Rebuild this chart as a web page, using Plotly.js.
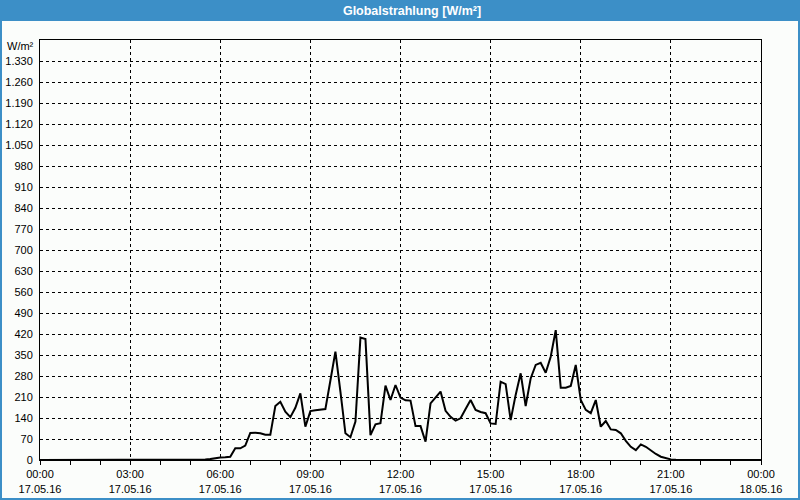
<!DOCTYPE html>
<html>
<head>
<meta charset="utf-8">
<script src="https://cdn.plot.ly/plotly-3.0.1.min.js"></script>
<style>
html,body{margin:0;padding:0;background:#fbfdfb;}
#chart{width:800px;height:500px;}
</style>
</head>
<body>
<div id="chart"></div>
<script>
// Sampling: every 10 minutes on 17.05.16, starting 00:00
const startTime = '2016-05-17T00:00:00';
const stepMinutes = 10;
// Global radiation values (W/m²), 10-minute samples 00:00 .. 24:00
const radiation = [
  // 00:00 - 05:10
  0,0,0,0,0,0, 0,0,0,0,0,0, 0,0,0,0,0,0, 0,0,0,0,0,0, 0,0,0,0,0,0, 0,0,
  // 05:20 - 05:50
  1,2,3,6,
  // 06:00 - 06:50
  8,9,11,39,39,48,
  // 07:00 - 07:50
  90,91,89,84,84,180,
  // 08:00 - 08:50
  194,161,143,174,222,111,
  // 09:00 - 09:50
  163,166,168,170,265,361,
  // 10:00 - 10:50
  228,89,76,128,408,403,
  // 11:00 - 11:50
  83,119,123,248,200,250,
  // 12:00 - 12:50
  208,199,198,113,113,61,
  // 13:00 - 13:50
  189,208,228,164,144,131,
  // 14:00 - 14:50
  139,170,200,167,160,156,
  // 15:00 - 15:50
  122,120,261,253,133,217,
  // 16:00 - 16:50
  289,180,272,317,324,291,
  // 17:00 - 17:50
  344,433,241,241,247,317,
  // 18:00 - 18:50
  200,167,156,200,111,130,
  // 19:00 - 19:50
  102,100,89,64,44,33,
  // 20:00 - 20:50
  52,44,31,20,11,6,
  // 21:00 - 21:50
  2,1,0,0,0,0,
  // 22:00 - 23:50
  0,0,0,0,0,0, 0,0,0,0,0,0,
  // 24:00
  0
];

const xTickVals = ['2016-05-17 00:00','2016-05-17 03:00','2016-05-17 06:00','2016-05-17 09:00','2016-05-17 12:00','2016-05-17 15:00','2016-05-17 18:00','2016-05-17 21:00','2016-05-18 00:00'];
const xTickTime = ['00:00','03:00','06:00','09:00','12:00','15:00','18:00','21:00','00:00'];
const xTickDate = ['17.05.16','17.05.16','17.05.16','17.05.16','17.05.16','17.05.16','17.05.16','17.05.16','18.05.16'];
const yTickVals = [0,70,140,210,280,350,420,490,560,630,700,770,840,910,980,1050,1120,1190,1260,1330];
const yTickText = ['0','70','140','210','280','350','420','490','560','630','700','770','840','910','980','1.050','1.120','1.190','1.260','1.330'];

function pad(n){return (n<10?'0':'')+n;}
const t0 = new Date(startTime+'Z').getTime();
const times = radiation.map((v,i)=>{
  const d = new Date(t0 + i*stepMinutes*60000);
  return d.getUTCFullYear()+'-'+pad(d.getUTCMonth()+1)+'-'+pad(d.getUTCDate())+' '+pad(d.getUTCHours())+':'+pad(d.getUTCMinutes());
});

const W=800,H=500,L=40,R=39,T=40,B=40;
const pw=W-L-R, ph=H-T-B;
function px2x(px){return (px-L)/pw;}
function py2y(py){return (H-B-py)/ph;}
const blue='#3c8fc7';
const font='Liberation Sans, Arial, sans-serif';

const trace = {
  x: times, y: radiation, type:'scatter', mode:'lines',
  line:{color:'#000000', width:2}, hoverinfo:'skip'
};

const layout = {
  width:W, height:H,
  margin:{l:L,r:R,t:T,b:B,pad:0},
  paper_bgcolor:'#fbfdfb', plot_bgcolor:'#fbfdfb',
  showlegend:false,
  font:{family:font, size:11, color:'#000'},
  title:{text:'<b>Globalstrahlung [W/m²]</b>', font:{family:font,size:12.5,color:'#ffffff'},
         x:412/800, xref:'container', xanchor:'center', y:1-10.5/500, yref:'container', yanchor:'middle'},
  xaxis:{
    type:'date', range:['2016-05-17 00:00','2016-05-18 00:00'],
    tickmode:'array', tickvals:xTickVals,
    ticktext:xTickTime.map((t,i)=>t+'<br>'+xTickDate[i]),
    ticks:'outside', ticklen:4, tickcolor:'#000', tickwidth:1,
    minor:{dtick:3600000, ticks:'outside', ticklen:4, tickcolor:'#000', showgrid:false},
    showgrid:true, gridcolor:'#000', gridwidth:1, griddash:'3px,3px',
    showline:true, linecolor:'#000', linewidth:1, mirror:true,
    zeroline:false, tickfont:{family:font,size:11,color:'#000'}, fixedrange:true
  },
  yaxis:{
    range:[0,1400], tickmode:'array', tickvals:yTickVals, ticktext:yTickText,
    ticks:'', ticklabelstandoff:4,
    showgrid:true, gridcolor:'#000', gridwidth:1, griddash:'3px,3px',
    showline:true, linecolor:'#000', linewidth:1, mirror:true,
    zeroline:false, tickfont:{family:font,size:11,color:'#000'}, fixedrange:true
  },
  shapes:[
    {type:'rect', xref:'paper', yref:'paper', x0:px2x(0), x1:px2x(800), y0:py2y(21), y1:py2y(0),
     fillcolor:blue, line:{width:0}, layer:'below'},
    {type:'line', xref:'paper', yref:'paper', x0:px2x(1), x1:px2x(1), y0:py2y(500), y1:py2y(20),
     line:{color:blue,width:2}, layer:'below'},
    {type:'line', xref:'paper', yref:'paper', x0:px2x(799), x1:px2x(799), y0:py2y(500), y1:py2y(20),
     line:{color:blue,width:2}, layer:'below'},
    {type:'line', xref:'paper', yref:'paper', x0:px2x(0), x1:px2x(800), y0:py2y(499), y1:py2y(499),
     line:{color:blue,width:2}, layer:'below'}
  ],
  annotations:[
    {text:'W/m²', xref:'paper', yref:'paper', x:px2x(36), y:py2y(46), xanchor:'right', yanchor:'middle',
     showarrow:false, font:{family:font,size:11,color:'#000'}}
  ]
};

Plotly.newPlot('chart',[trace],layout,{staticPlot:true,displayModeBar:false});
</script>
</body>
</html>
